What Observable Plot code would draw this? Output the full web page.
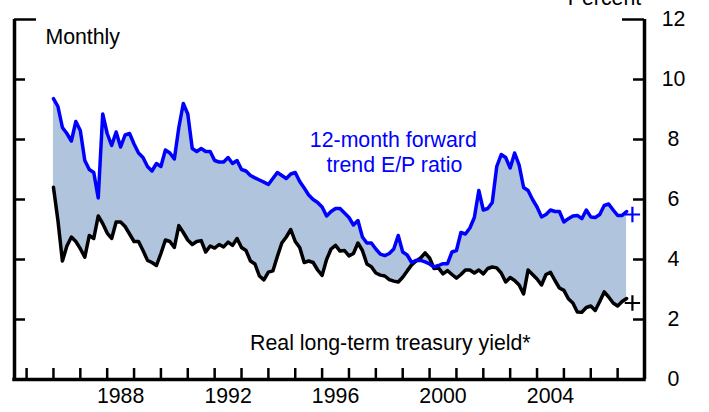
<!DOCTYPE html>
<html>
<head>
<meta charset="utf-8">
<script src="https://cdn.jsdelivr.net/npm/d3@7"></script>
<script src="https://cdn.jsdelivr.net/npm/@observablehq/plot@0.6"></script>
<style>
  html, body { margin: 0; padding: 0; background: #fff; }
  svg { display: block; }
</style>
</head>
<body>
<div id="chart"></div>
<script>
// Bi-monthly observations, starting January 1986
const startYear = 1986;
const stepYears = 1 / 6;

// 12-month forward trend E/P ratio (percent)
const epRatio = [
  9.36, 9.1, 8.4, 8.2, 7.95, 8.6,
  8.3, 7.3, 7.0, 6.9, 6.05, 8.85,
  8.2, 7.8, 8.25, 7.75, 8.15, 8.2,
  7.85, 7.55, 7.4, 7.1, 6.95, 7.2,
  7.1, 7.65, 7.55, 7.35, 8.4, 9.2,
  8.85, 7.7, 7.6, 7.7, 7.6, 7.6,
  7.3, 7.25, 7.25, 7.4, 7.2, 7.3,
  7.0, 6.95, 6.8, 6.72, 6.65, 6.58,
  6.5, 6.7, 6.9, 6.8, 6.7, 6.85,
  6.9, 6.6, 6.38, 6.15, 6.0, 5.9,
  5.75, 5.45, 5.6, 5.7, 5.7, 5.55,
  5.4, 5.15, 5.3, 4.75, 4.55, 4.55,
  4.35, 4.18, 4.13, 4.2, 4.35, 4.8,
  4.25, 4.15, 3.9, 3.97, 3.97, 3.92,
  3.85, 3.75, 3.8, 3.86, 3.86, 4.25,
  4.3, 4.9, 4.85, 5.05, 5.4, 6.3,
  5.65, 5.7, 5.9, 7.1, 7.5, 7.4,
  7.05, 7.55, 7.15, 6.4, 6.3, 6.0,
  5.75, 5.42, 5.5, 5.65, 5.6, 5.6,
  5.25, 5.36, 5.45, 5.47, 5.36, 5.65,
  5.42, 5.4, 5.5, 5.8, 5.85, 5.65,
  5.47, 5.47, 5.6
];

// Real long-term treasury yield (percent)
const realYield = [
  6.41, 5.3, 3.95, 4.45, 4.75, 4.6,
  4.36, 4.08, 4.8, 4.7, 5.45, 5.2,
  4.88, 4.7, 5.25, 5.25, 5.1, 4.85,
  4.6, 4.6, 4.3, 3.97, 3.9, 3.8,
  4.2, 4.65, 4.6, 4.4, 5.13, 4.9,
  4.65, 4.5, 4.6, 4.63, 4.25, 4.45,
  4.38, 4.5, 4.42, 4.58, 4.47, 4.7,
  4.4, 4.3, 3.95, 3.85, 3.45, 3.32,
  3.58, 3.62, 4.1, 4.55, 4.75, 5.0,
  4.6, 4.4, 3.9, 3.95, 3.9, 3.65,
  3.47, 4.0, 4.35, 4.47, 4.28, 4.3,
  4.12, 4.2, 4.55, 4.3, 3.85, 3.76,
  3.55, 3.48, 3.45, 3.33, 3.28, 3.25,
  3.41, 3.62, 3.82, 3.95, 4.05, 4.22,
  4.05, 3.7, 3.72, 3.52, 3.63, 3.5,
  3.38, 3.5, 3.65, 3.65, 3.55, 3.65,
  3.52, 3.7, 3.75, 3.72, 3.55, 3.25,
  3.4, 3.3, 3.15, 2.85, 3.65, 3.5,
  3.35, 3.15, 3.5, 3.57, 3.3, 3.05,
  2.97, 2.69, 2.55, 2.25, 2.24, 2.4,
  2.45, 2.3, 2.6, 2.92, 2.75, 2.55,
  2.45, 2.6, 2.7
];

// Latest-reading markers ("+")
const markerDate = [2007.55];
const markerEp = [5.5];
const markerYield = [2.55];

// Axis ticks and labels
const yearTicks = d3.range(1985, 2008);
const yearLabels = [1988, 1992, 1996, 2000, 2004];
const yTicks = [2, 4, 6, 8, 10];
const yLabels = [0, 2, 4, 6, 8, 10, 12];

const rows = epRatio.map((v, i) => ({
  date: startYear + i * stepYears,
  ep: v,
  yield: realYield[i]
}));
const markers = markerDate.map((d, i) => ({date: d, ep: markerEp[i], yield: markerYield[i]}));

const W = 709, H = 412;
const mL = 14, mR = 65, mT = 19, mB = 33;
const frameW = W - mL - mR, frameH = H - mT - mB;
const xMin = 1984.55, xMax = 2008;
const font = "'Liberation Sans', Arial, sans-serif";

const chart = Plot.plot({
  width: W, height: H,
  marginLeft: mL, marginRight: mR, marginTop: mT, marginBottom: mB,
  x: {domain: [xMin, xMax], axis: null},
  y: {domain: [0, 12], axis: null},
  style: {fontFamily: font, fontSize: "21.3px", overflow: "visible", background: "white"},
  marks: [
    Plot.areaY(rows, {x: "date", y1: "yield", y2: "ep", fill: "#b0c4de"}),
    Plot.line(rows, {x: "date", y: "yield", stroke: "black", strokeWidth: 3.5, strokeLinejoin: "round"}),
    Plot.line(rows, {x: "date", y: "ep", stroke: "#0000ff", strokeWidth: 3.5, strokeLinejoin: "round"}),
    Plot.dot(markers, {x: "date", y: "ep", symbol: "plus", r: 5, stroke: "#0000ff", strokeWidth: 2.2}),
    Plot.dot(markers, {x: "date", y: "yield", symbol: "plus", r: 5, stroke: "black", strokeWidth: 2.2}),
    // axis lines
    Plot.ruleX([xMin], {stroke: "black", strokeWidth: 3.5}),
    Plot.ruleX([xMax], {stroke: "black", strokeWidth: 3.5}),
    Plot.ruleY([0], {stroke: "black", strokeWidth: 3.5, strokeLinecap: "square"}),
    // inward ticks
    Plot.ruleY(yTicks, {stroke: "black", strokeWidth: 2.5, insetRight: frameW - 11}),
    Plot.ruleY(yTicks, {stroke: "black", strokeWidth: 2.5, insetLeft: frameW - 11}),
    Plot.ruleY([12], {stroke: "black", strokeWidth: 2.5, insetRight: frameW - 22}),
    Plot.ruleY([12], {stroke: "black", strokeWidth: 2.5, insetLeft: frameW - 22}),
    Plot.ruleX(yearTicks, {stroke: "black", strokeWidth: 2.5, insetTop: frameH - 11}),
    // tick labels
    Plot.text(yLabels, {y: d => d, text: d => String(d), frameAnchor: "right", dx: 29, textAnchor: "middle", fill: "black"}),
    Plot.text(yearLabels, {x: d => d + 0.5, text: d => String(d), frameAnchor: "bottom", dy: 23, fill: "black"}),
    // annotations
    Plot.text(["Percent"], {frameAnchor: "top-right", dx: -40, dy: -15, textAnchor: "middle", lineAnchor: "bottom", fill: "black"}),
    Plot.text(["Monthly"], {x: 1985.7, y: 11.2, textAnchor: "start", lineAnchor: "bottom", fill: "black"}),
    Plot.text(["12-month forward"], {x: 1998.65, y: 7.74, lineAnchor: "bottom", fill: "#0000ff"}),
    Plot.text(["trend E/P ratio"], {x: 1998.69, y: 6.91, lineAnchor: "bottom", fill: "#0000ff"}),
    Plot.text(["Real long-term treasury yield*"], {x: 1998.54, y: 0.97, lineAnchor: "bottom", fill: "black"})
  ]
});
document.getElementById("chart").appendChild(chart);
</script>
</body>
</html>
